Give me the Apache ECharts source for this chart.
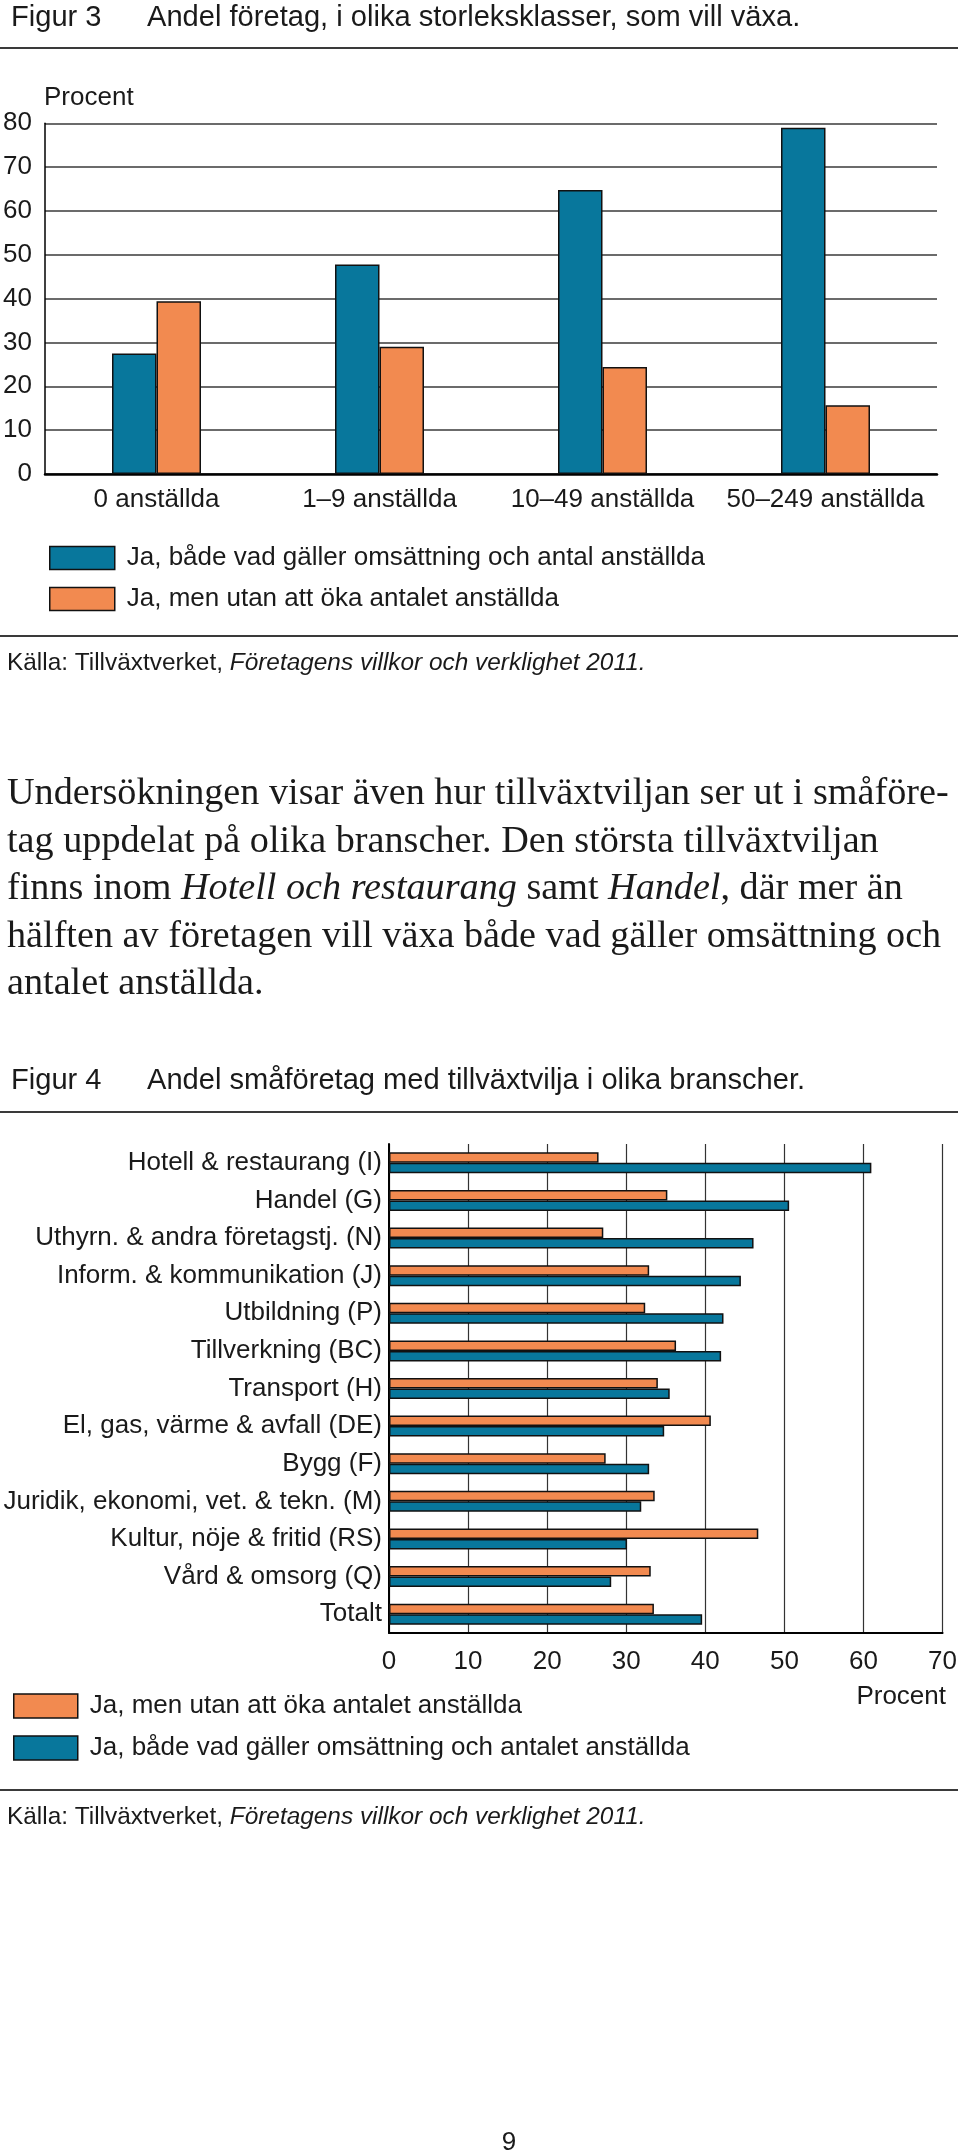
<!DOCTYPE html>
<html><head><meta charset="utf-8">
<script src="https://cdn.jsdelivr.net/npm/echarts@6/dist/echarts.min.js"></script>
<style>html,body{margin:0;padding:0;background:#fff}#c{width:960px;height:2156px}</style>
</head><body><div id="c"></div>
<script>
// ---- data ----
const fig3Categories = ['0 anställda', '1–9 anställda', '10–49 anställda', '50–249 anställda'];
const fig3Both = [27.5, 47.8, 64.8, 79.0];
const fig3NoStaff = [39.4, 29.0, 24.4, 15.7];
const fig4Categories = ['Hotell & restaurang (I)', 'Handel (G)', 'Uthyrn. & andra företagstj. (N)', 'Inform. & kommunikation (J)', 'Utbildning (P)', 'Tillverkning (BC)', 'Transport (H)', 'El, gas, värme & avfall (DE)', 'Bygg (F)', 'Juridik, ekonomi, vet. & tekn. (M)', 'Kultur, nöje & fritid (RS)', 'Vård & omsorg (Q)', 'Totalt'];
const fig4NoStaff = [26.5, 35.2, 27.1, 32.9, 32.4, 36.3, 34.0, 40.7, 27.4, 33.6, 46.7, 33.1, 33.5];
const fig4Both = [61.0, 50.6, 46.1, 44.5, 42.3, 42.0, 35.5, 34.8, 32.9, 31.9, 30.1, 28.1, 39.6];
const nameBoth3 = 'Ja, både vad gäller omsättning och antal anställda';
const nameBoth4 = 'Ja, både vad gäller omsättning och antalet anställda';
const nameNoStaff = 'Ja, men utan att öka antalet anställda';
const paragraph = [
  'Undersökningen visar även hur tillväxtviljan ser ut i småföre-',
  'tag uppdelat på olika branscher. Den största tillväxtviljan',
  'finns inom {i|Hotell och restaurang} samt {i|Handel}, där mer än',
  'hälften av företagen vill växa både vad gäller omsättning och',
  'antalet anställda.'
];

// ---- styling ----
const SANS = 'Liberation Sans';
const SERIF = 'Liberation Serif';
const TXT = '#1a1a1a';
const BLUE = '#08779c';
const ORANGE = '#f28a50';

const cv = document.createElement('canvas').getContext('2d');
function fit(text, family, target) {
  cv.font = '100px "' + family + '"';
  return Math.round(100 * target / cv.measureText(text).width * 10) / 10;
}
const S = fit('Juridik, ekonomi, vet. & tekn. (M)', SANS, 379);
const T = fit('Andel företag, i olika storleksklasser, som vill växa.', SANS, 653);
const K = fit('Källa: Tillväxtverket, Företagens villkor och verklighet 2011.', SANS, 639);
const P = fit('Undersökningen visar även hur tillväxtviljan ser ut i småföre-', SERIF, 942);

function txt(x, y, text, size, opts) {
  opts = opts || {};
  return {
    type: 'text', x: x, y: y, silent: true,
    style: Object.assign({
      text: text, fontSize: size, fontFamily: opts.family || SANS, fill: TXT,
      align: opts.align || 'left', verticalAlign: 'middle',
      textAlign: opts.align || 'left', textVerticalAlign: 'middle'
    }, opts.rich ? { rich: opts.rich } : {})
  };
}
function rule(y) {
  return { type: 'line', silent: true, shape: { x1: 0, y1: y, x2: 958, y2: y }, style: { stroke: '#3a3a3a', lineWidth: 2 } };
}
const srcRich = { i: { fontStyle: 'italic', fontSize: K, fontFamily: SANS, fill: TXT } };
const parRich = { i: { fontStyle: 'italic', fontSize: P, fontFamily: SERIF, fill: TXT } };
const srcText = 'Källa: Tillväxtverket, {i|Företagens villkor och verklighet 2011.}';

const graphics = [
  txt(11, 18, 'Figur 3', T), txt(147, 18, 'Andel företag, i olika storleksklasser, som vill växa.', T),
  rule(48),
  txt(44, 98, 'Procent', S),
  rule(636),
  txt(7, 663, srcText, K, { rich: srcRich }),
  txt(11, 1081, 'Figur 4', T), txt(147, 1081, 'Andel småföretag med tillväxtvilja i olika branscher.', T),
  rule(1112),
  txt(946, 1697, 'Procent', S, { align: 'right' }),
  rule(1790),
  txt(7, 1817, srcText, K, { rich: srcRich }),
  txt(509, 2143, '9', S, { align: 'center' })
];
const parY = [794, 841.5, 889, 936.5, 984];
paragraph.forEach((line, i) => graphics.push(txt(7, parY[i], line, P, { family: SERIF, rich: parRich })));

const axisText = { fontSize: S, fontFamily: SANS, color: TXT };
const barBorder = { borderColor: '#111', borderWidth: 1.5 };

const option = {
  animation: false,
  backgroundColor: '#fff',
  textStyle: { fontFamily: SANS },
  grid: [
    { left: 45, top: 123.3, width: 892, height: 350.7, containLabel: false },
    { left: 389, top: 1144, width: 556, height: 489, containLabel: false }
  ],
  xAxis: [
    { gridIndex: 0, type: 'category', data: fig3Categories,
      axisLine: { lineStyle: { color: '#000', width: 2.5 } }, axisTick: { show: false },
      axisLabel: Object.assign({ margin: 13, interval: 0, hideOverlap: false }, axisText), splitLine: { show: false } },
    { gridIndex: 1, type: 'value', min: 0, max: 70, interval: 10,
      axisLine: { show: true, lineStyle: { color: '#000', width: 2 } }, axisTick: { show: false },
      axisLabel: Object.assign({ margin: 16 }, axisText),
      splitLine: { show: true, lineStyle: { color: '#333', width: 1.2 } } }
  ],
  yAxis: [
    { gridIndex: 0, type: 'value', min: 0, max: 80, interval: 10,
      axisLine: { show: true, lineStyle: { color: '#000', width: 1.5 } }, axisTick: { show: false },
      axisLabel: Object.assign({ margin: 13 }, axisText),
      splitLine: { show: true, lineStyle: { color: '#3a3a3a', width: 1.5 } } },
    { gridIndex: 1, type: 'category', data: fig4Categories, inverse: true,
      axisLine: { show: true, lineStyle: { color: '#000', width: 2 } }, axisTick: { show: false },
      axisLabel: Object.assign({ margin: 7, interval: 0 }, axisText), splitLine: { show: false } }
  ],
  legend: [
    { left: 44, top: 540, orient: 'vertical', icon: 'rect', itemWidth: 65, itemHeight: 23, itemGap: 15,
      selectedMode: false, data: [nameBoth3, nameNoStaff],
      itemStyle: { borderColor: '#111', borderWidth: 1.5 },
      textStyle: { fontSize: S, fontFamily: SANS, color: TXT, lineHeight: 23, padding: [0, 0, 0, 7] } },
    { left: 8, top: 1688, orient: 'vertical', icon: 'rect', itemWidth: 64, itemHeight: 24, itemGap: 16,
      selectedMode: false, data: [nameNoStaff, nameBoth4],
      itemStyle: { borderColor: '#111', borderWidth: 1.5 },
      textStyle: { fontSize: S, fontFamily: SANS, color: TXT, lineHeight: 24, padding: [0, 0, 0, 7] } }
  ],
  series: [
    { name: nameBoth3, type: 'bar', xAxisIndex: 0, yAxisIndex: 0, data: fig3Both, barWidth: 44.5, barGap: '0%',
      itemStyle: Object.assign({ color: BLUE }, barBorder) },
    { name: nameNoStaff, type: 'bar', xAxisIndex: 0, yAxisIndex: 0, data: fig3NoStaff, barWidth: 44.5, barGap: '0%',
      itemStyle: Object.assign({ color: ORANGE }, barBorder) },
    { name: nameNoStaff, type: 'bar', xAxisIndex: 1, yAxisIndex: 1, data: fig4NoStaff, barWidth: 10.5, barGap: '0%',
      itemStyle: Object.assign({ color: ORANGE }, barBorder) },
    { name: nameBoth4, type: 'bar', xAxisIndex: 1, yAxisIndex: 1, data: fig4Both, barWidth: 10.5, barGap: '0%',
      itemStyle: Object.assign({ color: BLUE }, barBorder) }
  ],
  graphic: { elements: graphics }
};
const chart = echarts.init(document.getElementById('c'), null, { renderer: 'canvas' });
chart.setOption(option);
</script></body></html>
